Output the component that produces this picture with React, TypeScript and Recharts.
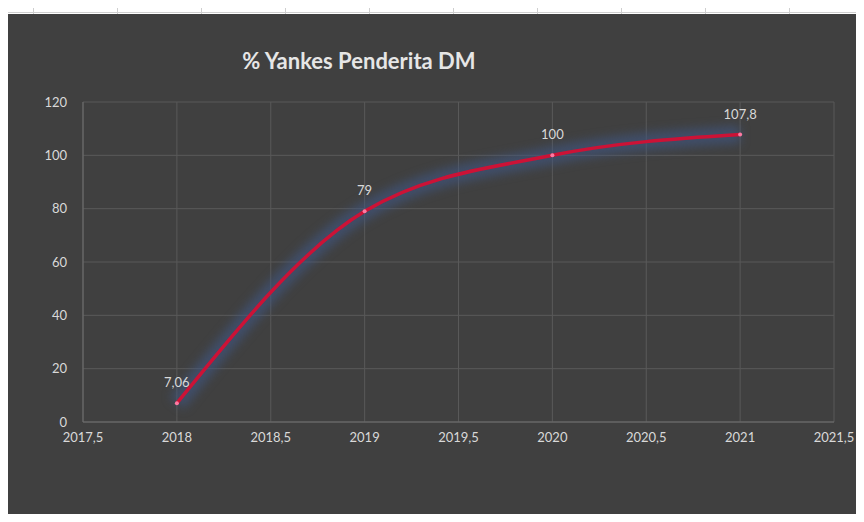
import React from "react";
import {
  CartesianGrid,
  LabelList,
  Line,
  LineChart,
  XAxis,
  YAxis,
} from "recharts";

const years = [2018, 2019, 2020, 2021];
const percentages = [7.06, 79, 100, 107.8];
const xTicks = [2017.5, 2018, 2018.5, 2019, 2019.5, 2020, 2020.5, 2021, 2021.5];
const yTicks = [0, 20, 40, 60, 80, 100, 120];

const data = years.map((year, i) => ({ year, value: percentages[i] }));

const FONT = "Lato, 'Open Sans', sans-serif";
const TEXT = "#d9d9d9";

const commaDecimal = (v: number | string) => String(v).replace(".", ",");

export default function App() {
  return (
    <div
      style={{
        position: "relative",
        width: 864,
        height: 522,
        margin: -8,
        background: "#ffffff",
        overflow: "hidden",
      }}
    >
      <style>{`.glow-line path { filter: blur(5px); }`}</style>
      {/* sheet header strip above the chart */}
      <div
        style={{
          position: "absolute",
          left: 7,
          top: 12,
          width: 857,
          height: 1,
          background: "#cfcfcf",
        }}
      />
      {Array.from({ length: 10 }, (_, i) => (
        <div
          key={i}
          style={{
            position: "absolute",
            left: 33 + i * 84,
            top: 8,
            width: 1,
            height: 6,
            background: "#cfcfcf",
          }}
        />
      ))}
      <div
        style={{
          position: "absolute",
          left: 7,
          top: 14,
          width: 857,
          height: 508,
          background: "#404040",
        }}
      >
        <div
          style={{
            position: "absolute",
            left: 0,
            top: 33,
            width: 704,
            textAlign: "center",
            fontFamily: FONT,
            fontWeight: 700,
            fontSize: 22,
            color: "#e6e6e6",
          }}
        >
          % Yankes Penderita DM
        </div>
        <LineChart
          width={857}
          height={508}
          data={data}
          margin={{ top: 88, right: 30, bottom: 70, left: 0 }}
        >
          <CartesianGrid stroke="#595959" strokeWidth={1} />
          <XAxis
            dataKey="year"
            type="number"
            domain={[2017.5, 2021.5]}
            ticks={xTicks}
            tickFormatter={commaDecimal}
            stroke="#6e6e6e"
            tickSize={0}
            tickMargin={11}
            height={30}
            interval={0}
            tick={{ fill: TEXT, fontSize: 13, fontFamily: FONT }}
          />
          <YAxis
            type="number"
            domain={[0, 120]}
            ticks={yTicks}
            stroke="#6e6e6e"
            tickSize={0}
            tickMargin={16}
            width={76}
            tick={{ fill: TEXT, fontSize: 13, fontFamily: FONT }}
          />
          <Line
            className="glow-line"
            type="monotone"
            dataKey="value"
            stroke="#3f5683"
            strokeOpacity={0.6}
            strokeWidth={18}
            dot={false}
            activeDot={false}
            legendType="none"
            isAnimationActive={false}
          />
          <Line
            type="monotone"
            dataKey="value"
            stroke="#cc1236"
            strokeWidth={3.5}
            dot={{ r: 2, fill: "#ff7aa2", stroke: "none" }}
            activeDot={false}
            isAnimationActive={false}
          >
            <LabelList
              dataKey="value"
              position="top"
              offset={16}
              formatter={commaDecimal}
              fill={TEXT}
              fontSize={13}
              fontFamily={FONT}
            />
          </Line>
        </LineChart>
      </div>
    </div>
  );
}
